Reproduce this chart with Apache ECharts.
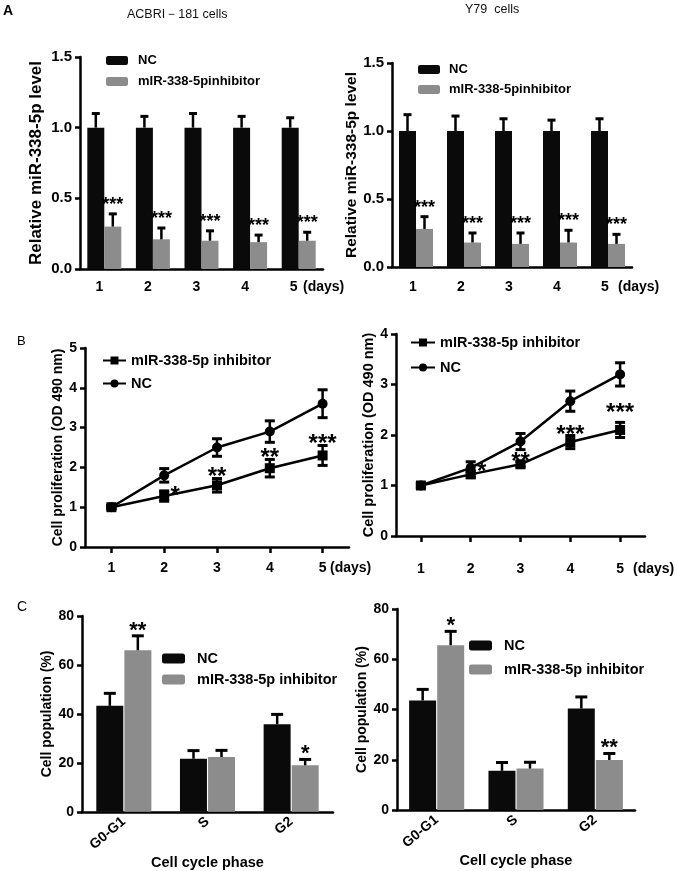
<!DOCTYPE html>
<html><head><meta charset="utf-8">
<script src="https://cdn.jsdelivr.net/npm/echarts@6/dist/echarts.min.js"></script>
<style>html,body{margin:0;padding:0;background:#fff}#c{width:677px;height:871px}</style>
</head><body><div id="c"></div>
<script>
// ================= DATA =================
const dayLabels = ['1', '2', '3', '4', '5'];
const phaseLabels = ['G0-G1', 'S', 'G2'];

// Panel A (relative miR-338-5p level)
const aLeftNC = [1.0, 1.0, 1.0, 1.0, 1.0];
const aLeftNCErr = [0.10, 0.08, 0.10, 0.08, 0.07];
const aLeftInh = [0.30, 0.21, 0.20, 0.19, 0.20];
const aLeftInhErr = [0.09, 0.08, 0.07, 0.05, 0.06];
const aLeftStars = ['***', '***', '***', '***', '***'];

const aRightNC = [1.0, 1.0, 1.0, 1.0, 1.0];
const aRightNCErr = [0.12, 0.11, 0.09, 0.08, 0.09];
const aRightInh = [0.28, 0.18, 0.17, 0.18, 0.17];
const aRightInhErr = [0.09, 0.07, 0.08, 0.09, 0.07];
const aRightStars = ['***', '***', '***', '***', '***'];

// Panel B (cell proliferation, OD 490 nm)
const bLeftInh = [1.0, 1.28, 1.55, 1.98, 2.30];
const bLeftInhErr = [0.04, 0.13, 0.17, 0.22, 0.25];
const bLeftNC = [1.0, 1.80, 2.50, 2.90, 3.60];
const bLeftNCErr = [0.04, 0.17, 0.22, 0.27, 0.35];
const bLeftStars = ['', '*', '**', '**', '***'];

const bRightInh = [1.0, 1.22, 1.42, 1.86, 2.10];
const bRightInhErr = [0.04, 0.06, 0.05, 0.13, 0.15];
const bRightNC = [1.0, 1.35, 1.87, 2.67, 3.20];
const bRightNCErr = [0.04, 0.12, 0.16, 0.20, 0.23];
const bRightStars = ['', '*', '**', '***', '***'];

// Panel C (cell population %)
const cLeftNC = [43.3, 21.7, 35.8];
const cLeftNCErr = [5.1, 3.3, 4.0];
const cLeftInh = [66.0, 22.4, 19.0];
const cLeftInhErr = [5.9, 2.7, 2.4];
const cLeftStars = ['**', '', '*'];

const cRightNC = [43.6, 15.6, 40.4];
const cRightNCErr = [4.4, 3.3, 4.6];
const cRightInh = [65.6, 16.5, 19.9];
const cRightInhErr = [5.5, 2.5, 2.6];
const cRightStars = ['*', '', '**'];

// ================= STYLE / LAYOUT =================
const FONT = 'Arial, "Liberation Sans", Helvetica, sans-serif';
const BLACK = '#0a0a0a';
const GREY = '#8c8c8c';
const lbl = n => n.split('|')[0];

const grids = [
  {left: 80, top: 57, width: 243, height: 212},   // A left
  {left: 392, top: 63, width: 240, height: 204},  // A right
  {left: 85, top: 348, width: 264, height: 199},  // B left
  {left: 396, top: 334, width: 249, height: 202}, // B right
  {left: 82, top: 616, width: 251, height: 201},  // C left
  {left: 397, top: 609, width: 238, height: 201}  // C right
];

function yAx(g, max, interval, name, nameGap, fmt, nameFs, labFs) {
  return {
    gridIndex: g, type: 'value', min: 0, max: max, interval: interval,
    name: name, nameLocation: 'middle', nameGap: nameGap,
    nameTextStyle: {fontSize: nameFs, fontWeight: 'bold', color: '#000', fontFamily: FONT},
    axisLine: {show: true, lineStyle: {color: '#000', width: 2.5}},
    axisTick: {show: true, length: 5, lineStyle: {color: '#000', width: 2.5}},
    axisLabel: {fontSize: labFs, fontWeight: 'bold', color: '#000', margin: 8, fontFamily: FONT, formatter: fmt},
    splitLine: {show: false}
  };
}
function xAx(g, data, opts) {
  return Object.assign({
    gridIndex: g, type: 'category', data: data, boundaryGap: true,
    axisLine: {show: true, lineStyle: {color: '#000', width: 2.5}},
    axisTick: {show: false},
    splitLine: {show: false}
  }, opts);
}
const xLabel = (margin, pad) => ({fontSize: 14, fontWeight: 'bold', color: '#000', margin: margin, padding: pad, fontFamily: FONT});

function errSeries(g, vals, errs, o) {
  return {
    type: 'custom', xAxisIndex: g, yAxisIndex: g, z: 10, silent: true,
    data: vals.map((v, i) => [i, v, errs[i]]),
    renderItem: function (params, api) {
      const i = api.value(0), v = api.value(1), e = api.value(2);
      const p = api.coord([i, v]);
      const x = p[0] + (o.dx || 0);
      const yTop = api.coord([i, v + e])[1];
      const yBot = o.both ? api.coord([i, v - e])[1] : p[1];
      const st = {stroke: '#000', lineWidth: 2.5};
      const ch = [
        {type: 'line', shape: {x1: x, y1: yBot, x2: x, y2: yTop}, style: st},
        {type: 'line', shape: {x1: x - o.cap / 2, y1: yTop, x2: x + o.cap / 2, y2: yTop}, style: {stroke: '#000', lineWidth: 3}}
      ];
      if (o.both) ch.push({type: 'line', shape: {x1: x - o.cap / 2, y1: yBot, x2: x + o.cap / 2, y2: yBot}, style: {stroke: '#000', lineWidth: 3}});
      const s = o.stars ? o.stars[params.dataIndex] : '';
      if (s) {
        const sdx = o.starDx ? o.starDx[params.dataIndex] : 0;
        const sdy = o.starDy ? o.starDy[params.dataIndex] : 0;
        ch.push({type: 'text', x: x + sdx, y: yTop - o.starGap + sdy + 0.22 * o.starFs,
          style: {text: s, fill: '#000', fontSize: o.starFs, fontWeight: 'bold', fontFamily: FONT, align: 'center', verticalAlign: 'middle'}});
      }
      return {type: 'group', children: ch};
    }
  };
}
function barSeries(g, name, vals, color, w, gap) {
  return {type: 'bar', name: name, xAxisIndex: g, yAxisIndex: g, data: vals, barWidth: w, barGap: gap,
    itemStyle: {color: color}, silent: true, z: 2};
}
function lineSeries(g, name, vals, symbol) {
  return {type: 'line', name: name, xAxisIndex: g, yAxisIndex: g, data: vals, symbol: symbol, symbolSize: 10,
    lineStyle: {color: '#000', width: 2.5}, itemStyle: {color: '#000'}, silent: true, z: 12};
}
function legend(left, top, names, gap, iw, ih, icon, fs, padL) {
  const l = {left: left, top: top, orient: 'vertical', padding: 0, itemGap: gap, itemWidth: iw, itemHeight: ih,
    data: names, formatter: lbl, selectedMode: false,
    textStyle: {fontSize: fs, fontWeight: 'bold', color: '#000', fontFamily: FONT, padding: [0, 0, 0, padL]}};
  if (icon) l.icon = icon;
  return l;
}

const fmt1 = v => v.toFixed(1);
const fmt0 = v => String(v);

const option = {
  animation: false,
  backgroundColor: '#fff',
  textStyle: {fontFamily: FONT},
  grid: grids,
  xAxis: [
    xAx(0, dayLabels, {axisLabel: xLabel(11, [0, 10, 0, 0])}),
    xAx(1, dayLabels, {axisLabel: xLabel(13, [0, 6, 0, 0])}),
    xAx(2, dayLabels, {axisTick: {show: true, alignWithLabel: true, length: 6, lineStyle: {color: '#000', width: 2.5}}, axisLabel: xLabel(14, 0)}),
    xAx(3, dayLabels, {axisTick: {show: true, alignWithLabel: true, length: 6, lineStyle: {color: '#000', width: 2.5}}, axisLabel: xLabel(26, 0)}),
    xAx(4, phaseLabels, {axisLabel: Object.assign(xLabel(8, 0), {rotate: 40}), name: 'Cell cycle phase', nameLocation: 'middle', nameGap: 33,
      nameTextStyle: {fontSize: 14.5, fontWeight: 'bold', color: '#000', fontFamily: FONT}}),
    xAx(5, phaseLabels, {axisLabel: Object.assign(xLabel(8, 0), {rotate: 40}), name: 'Cell cycle phase', nameLocation: 'middle', nameGap: 33,
      nameTextStyle: {fontSize: 14.5, fontWeight: 'bold', color: '#000', fontFamily: FONT}})
  ],
  yAxis: [
    yAx(0, 1.5, 0.5, 'Relative miR-338-5p level', 35, fmt1, 17, 15),
    yAx(1, 1.5, 0.5, 'Relative miR-338-5p level', 32, fmt1, 15.5, 15),
    yAx(2, 5, 1, 'Cell proliferation (OD 490 nm)', 13, fmt0, 14, 14),
    yAx(3, 4, 1, 'Cell proliferation (OD 490 nm)', 19, fmt0, 14.5, 14),
    yAx(4, 80, 20, 'Cell population (%)', 26, fmt0, 14, 14),
    yAx(5, 80, 20, 'Cell population (%)', 28, fmt0, 14, 14)
  ],
  legend: [
    legend(106, 54, ['NC|A', 'mIR-338-5pinhibitor|A'], 8, 22, 9, 'roundRect', 13, 5),
    legend(418, 63, ['NC|A', 'mIR-338-5pinhibitor|A'], 7, 22, 9, 'roundRect', 13, 4),
    legend(102, 353, ['mIR-338-5p inhibitor|B', 'NC|B'], 8, 23, 10, null, 14.5, 0),
    legend(410, 335, ['mIR-338-5p inhibitor|B', 'NC|B'], 10, 24, 10, null, 14.5, 0),
    legend(162, 651, ['NC|C', 'mIR-338-5p inhibitor|C'], 6, 23, 10, 'roundRect', 14.5, 7),
    legend(469, 638, ['NC|C', 'mIR-338-5p inhibitor|C'], 9, 23, 10, 'roundRect', 14.5, 7)
  ],
  series: [
    // A left
    barSeries(0, 'NC|A', aLeftNC, BLACK, 17, '0%'),
    barSeries(0, 'mIR-338-5pinhibitor|A', aLeftInh, GREY, 17, '0%'),
    errSeries(0, aLeftNC, aLeftNCErr, {dx: -8.5, cap: 8}),
    errSeries(0, aLeftInh, aLeftInhErr, {dx: 8.5, cap: 8, stars: aLeftStars, starFs: 18, starGap: 13}),
    // A right
    barSeries(1, 'NC|A', aRightNC, BLACK, 17, '0%'),
    barSeries(1, 'mIR-338-5pinhibitor|A', aRightInh, GREY, 17, '0%'),
    errSeries(1, aRightNC, aRightNCErr, {dx: -8.5, cap: 8}),
    errSeries(1, aRightInh, aRightInhErr, {dx: 8.5, cap: 8, stars: aRightStars, starFs: 18, starGap: 13}),
    // B left
    lineSeries(2, 'mIR-338-5p inhibitor|B', bLeftInh, 'rect'),
    lineSeries(2, 'NC|B', bLeftNC, 'circle'),
    errSeries(2, bLeftNC, bLeftNCErr, {both: true, cap: 10}),
    errSeries(2, bLeftInh, bLeftInhErr, {both: true, cap: 10, stars: bLeftStars, starFs: 24, starGap: 6,
      starDx: [0, 11, 0, 0, 0], starDy: [0, 6, 0, 0, 0]}),
    // B right
    lineSeries(3, 'mIR-338-5p inhibitor|B', bRightInh, 'rect'),
    lineSeries(3, 'NC|B', bRightNC, 'circle'),
    errSeries(3, bRightNC, bRightNCErr, {both: true, cap: 10}),
    errSeries(3, bRightInh, bRightInhErr, {both: true, cap: 10, stars: bRightStars, starFs: 24, starGap: 5,
      starDx: [0, 11, 0, 0, 0], starDy: [0, 1, 0, 0, -9]}),
    // C left
    barSeries(4, 'NC|C', cLeftNC, BLACK, 27, '4%'),
    barSeries(4, 'mIR-338-5p inhibitor|C', cLeftInh, GREY, 27, '4%'),
    errSeries(4, cLeftNC, cLeftNCErr, {dx: -14, cap: 12}),
    errSeries(4, cLeftInh, cLeftInhErr, {dx: 14, cap: 12, stars: cLeftStars, starFs: 22, starGap: 10}),
    // C right
    barSeries(5, 'NC|C', cRightNC, BLACK, 27, '4%'),
    barSeries(5, 'mIR-338-5p inhibitor|C', cRightInh, GREY, 27, '4%'),
    errSeries(5, cRightNC, cRightNCErr, {dx: -14, cap: 12}),
    errSeries(5, cRightInh, cRightInhErr, {dx: 14, cap: 12, stars: cRightStars, starFs: 22, starGap: 10})
  ],
  graphic: [
    {type: 'text', left: 3, top: 4, style: {text: 'A', fontSize: 14, fontWeight: 'bold', fill: '#000', fontFamily: FONT}},
    {type: 'text', left: 17, top: 335, style: {text: 'B', fontSize: 13, fill: '#000', fontFamily: FONT}},
    {type: 'text', left: 17, top: 600, style: {text: 'C', fontSize: 14, fill: '#000', fontFamily: FONT}},
    {type: 'text', left: 127, top: 8, style: {text: 'ACBRI－181 cells', fontSize: 12.5, fill: '#111', fontFamily: FONT}},
    {type: 'text', left: 465, top: 3, style: {text: 'Y79  cells', fontSize: 12.5, fill: '#111', fontFamily: FONT}},
    {type: 'text', left: 303, top: 280, style: {text: '(days)', fontSize: 14, fontWeight: 'bold', fill: '#000', fontFamily: FONT}},
    {type: 'text', left: 618, top: 280, style: {text: '(days)', fontSize: 14, fontWeight: 'bold', fill: '#000', fontFamily: FONT}},
    {type: 'text', left: 330, top: 561, style: {text: '(days)', fontSize: 14, fontWeight: 'bold', fill: '#000', fontFamily: FONT}},
    {type: 'text', left: 633, top: 562, style: {text: '(days)', fontSize: 14, fontWeight: 'bold', fill: '#000', fontFamily: FONT}}
  ]
};

const chart = echarts.init(document.getElementById('c'), null, {renderer: 'canvas'});
chart.setOption(option);
</script>
</body></html>
